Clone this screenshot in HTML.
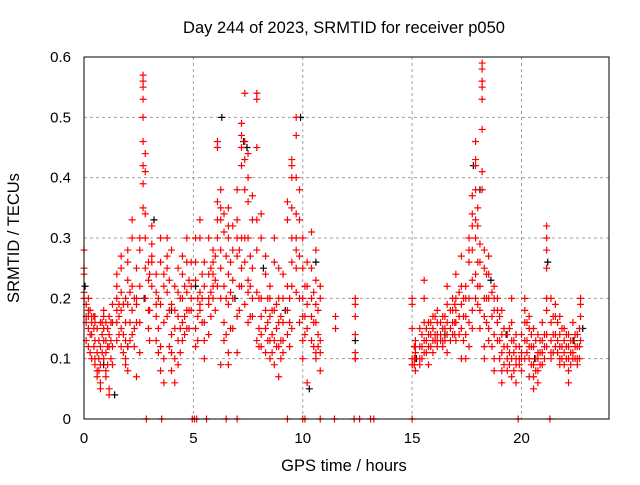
<!DOCTYPE html>
<html><head><meta charset="utf-8"><style>
body{margin:0;background:#fff}
svg text{font-family:"Liberation Sans",sans-serif;font-size:16.5px;fill:#000}
svg text.tick{font-size:15px}
</style></head><body>
<svg id="chart" width="640" height="480">
<text x="344" y="33" text-anchor="middle">Day 244 of 2023, SRMTID for receiver p050</text>
<text x="344" y="471" text-anchor="middle">GPS time / hours</text>
<text transform="translate(19,238) rotate(-90)" text-anchor="middle">SRMTID / TECUs</text>
<g id="grid"></g><g id="marks"></g>
<rect x="84" y="57" width="525" height="362" fill="none" stroke="#000" stroke-width="1"/>
</svg>
<script>
const xTicks=[0,5,10,15,20];
const yTicks=[0,0.1,0.2,0.3,0.4,0.5,0.6];
const yTickLabels=["0","0.1","0.2","0.3","0.4","0.5","0.6"];
const redTimes=[0,0.1,0.2,0.35,0.5,0.6,0.75,0.9,1.0,1.15,1.3,1.5,1.7,1.9,2.0,2.2,2.4,2.55,2.7,2.8,2.95,3.1,3.3,3.5,3.65,3.8,4.0,4.15,4.3,4.5,4.7,4.9,5.1,5.3,5.5,5.7,5.9,6.1,6.25,6.4,6.6,6.8,7.0,7.2,7.35,7.5,7.7,7.9,8.1,8.3,8.5,8.7,8.9,9.1,9.3,9.5,9.7,9.85,10.0,10.2,10.4,10.6,10.8,11.5,12.4,15.0,15.15,15.35,15.55,15.75,15.95,16.15,16.4,16.6,16.85,17.0,17.25,17.45,17.6,17.75,17.9,18.0,18.1,18.2,18.3,18.5,18.75,18.9,19.1,19.35,19.55,19.75,20.0,20.15,20.35,20.55,20.75,20.95,21.15,21.35,21.55,21.75,21.95,22.15,22.35,22.55,22.7];
const redValues=[[.24,.28,.25,.21,.2],[.17,.16,.19,.13],[.15,.17,.18,.12,.2],[.16,.14,.1,.17],[.13,.16,.09,.17,.1],[.08,.11,.15,.07],[.16,.12,.06,.05,.09],[.15,.17,.1,.13,.18],[.11,.13,.16,.07,.08],[.14,.17,.12,.05,.04],[.16,.19,.09,.12],[.2,.22,.18,.24,.16,.13],[.21,.18,.15,.12,.25,.27],[.2,.16,.1,.09,.13],[.28,.26,.23,.19,.12,.08],[.22,.18,.3,.33,.14],[.25,.2,.16,.07,.19],[.3,.28,.22,.16,.11],[.57,.56,.53,.55,.5,.46,.42,.39,.35],[.44,.41,.34,.3,.25,.2],[.26,.23,.18,.15],[.22,.27,.32,.29,.26],[.19,.24,.21,.17,.13],[.26,.3,.19,.12,.08],[.24,.22,.16,.1,.06],[.3,.27,.25,.21,.17],[.19,.14,.11,.08,.28],[.22,.18,.15,.1,.06],[.25,.21,.17,.13,.09],[.27,.24,.2,.16,.13],[.3,.26,.21,.18,.15],[.18,.22,.26,.2],[.26,.3,.23,.15,.12],[.33,.3,.21,.19,.18],[.22,.26,.16,.1,.13],[.3,.24,.2,.14,.19],[.28,.26,.24,.22,.2],[.46,.45,.36,.33,.3,.22],[.35,.38,.33,.28,.25,.2,.09],[.34,.31,.22,.16,.13],[.35,.32,.3,.24,.19,.11,.09],[.32,.28,.23,.2,.15],[.38,.33,.3,.27,.17,.11],[.47,.49,.45,.42,.3,.25,.22],[.54,.46,.43,.38,.3,.26,.19],[.44,.4,.36,.3,.23,.21,.16],[.37,.33,.25,.2,.17],[.54,.53,.45,.33,.28,.21,.13],[.34,.3,.2,.17,.14,.12],[.27,.24,.18,.15,.11],[.22,.2,.17,.13,.1],[.3,.26,.18,.13,.09],[.25,.2,.16,.12,.07],[.24,.2,.16,.13,.11],[.36,.33,.22,.18,.14],[.43,.42,.4,.35,.3,.26,.22,.15],[.5,.47,.4,.34,.3,.28,.25,.21],[.38,.33,.27,.2,.16],[.3,.25,.2,.17,.13,.1],[.26,.22,.19,.15,.06],[.31,.25,.2,.17,.13],[.28,.23,.19,.16,.11,.1],[.22,.2,.13,.11,.08],[.17,.15],[.2,.19,.17,.14,.11,.1,.1],[.2,.19,.15,.1,.09,.09],[.13,.11,.08,.1,.12],[.15,.12,.1,.09],[.23,.2,.16,.13,.11],[.16,.14,.12,.09],[.17,.15,.13,.11],[.18,.16,.14,.12,.13],[.17,.15,.13,.12],[.22,.19,.16,.14,.11],[.2,.18,.16,.14],[.24,.2,.18,.16,.13],[.27,.22,.19,.15,.1],[.22,.2,.17,.14,.1],[.3,.28,.26,.2,.16,.12],[.37,.34,.32,.28,.23,.18,.15],[.46,.43,.42,.38,.33,.3,.24,.2],[.35,.32,.26,.22,.19],[.29,.26,.22,.18,.15],[.59,.58,.56,.55,.53,.48,.41,.38],[.28,.25,.2,.17,.12,.1],[.27,.24,.2,.15,.13],[.2,.22,.18,.14,.1,.08],[.2,.18,.16,.13],[.18,.14,.11,.08,.06],[.14,.12,.1,.08],[.2,.16,.13,.1,.07],[.14,.12,.1,.09,.06],[.14,.11,.1,.08],[.2,.18,.16,.13,.1],[.17,.15,.12,.1,.07],[.15,.12,.09,.07,.05],[.14,.11,.1,.08,.06],[.16,.13,.11,.09],[.32,.3,.28,.25,.2,.18,.14,.12],[.2,.16,.13,.11,.1],[.19,.17,.14,.12],[.17,.14,.12,.1,.09],[.15,.13,.11,.09],[.14,.12,.1,.08,.06],[.16,.13,.11,.1],[.14,.12,.1,.09],[.2,.19,.17,.13]];
const extraTimes=[0.28,0.45,0.68,0.83,1.08,1.23,1.6,1.8,2.1,2.3,3.0,3.4,3.9,4.4,4.6,4.8,5.2,5.4,5.8,6.0,6.5,6.7,7.1,7.6,8.0,8.4,8.6,8.8,9.0,9.4,10.1,10.5,10.7,15.1,15.45,15.65,15.85,16.05,16.3,16.5,16.75,16.95,17.15,17.35,18.4,18.65,19.0,19.2,19.45,19.65,19.9,20.25,20.45,20.65,20.85,21.05,21.45,21.65,21.85,22.05,22.25,22.45,22.65];
const extraValues=[[.14,.18,.11],[.15,.12,.17],[.13,.1,.08],[.14,.11,.16],[.12,.15,.09],[.13,.1,.16],[.17,.14,.19],[.19,.14,.11],[.21,.16,.13],[.2,.15,.12],[.24,.18,.13],[.2,.15,.11],[.23,.18,.12],[.2,.15,.11],[.22,.17,.14],[.23,.18,.15],[.2,.17,.13],[.24,.2,.16],[.25,.21,.17],[.27,.23,.18],[.27,.2,.14],[.26,.21,.15],[.28,.22,.18],[.27,.22,.17],[.2,.15,.12],[.2,.16,.13],[.18,.14,.11],[.19,.15,.12],[.17,.13,.1],[.2,.16,.12],[.22,.17,.14],[.21,.16,.12],[.18,.14,.12],[.12,.1,.09],[.14,.12,.1],[.15,.13,.11],[.16,.14,.12],[.17,.14,.13],[.16,.14,.13],[.17,.15,.13],[.18,.15,.13],[.19,.16,.14],[.21,.17,.14],[.2,.17,.13],[.24,.2,.16],[.21,.17,.12],[.17,.13,.1],[.15,.12,.09],[.15,.11,.09],[.13,.11,.08],[.12,.1,.09],[.16,.13,.11],[.14,.12,.09],[.13,.1,.08],[.13,.11,.09],[.14,.12,.1],[.17,.14,.11],[.16,.13,.11],[.15,.12,.1],[.14,.12,.1],[.13,.11,.09],[.14,.12,.1],[.15,.12,.1]];
const zeroTimes=[2.85,3.55,4.95,5.05,5.15,5.6,6.5,7.0,9.3,10.0,10.1,10.8,11.45,12.35,12.6,13.1,13.25,15.0,19.85,21.3];
const blackTimes=[0.05,0.9,1.4,2.0,2.75,3.2,4.0,5.1,6.3,6.9,7.3,7.45,8.2,9.2,9.9,10.3,10.6,12.4,15.2,16.5,17.8,18.1,18.6,19.3,20.6,21.2,22.4,22.8];
const blackValues=[.22,.09,.04,.12,.2,.33,.18,.22,.5,.2,.46,.45,.25,.18,.5,.05,.26,.13,.1,.14,.42,.38,.23,.14,.1,.26,.13,.15];

const X=t=>84+t*21.875, Y=v=>419-v*603.3;
const NS="http://www.w3.org/2000/svg";
const grid=document.getElementById('grid'), marks=document.getElementById('marks');
function mk(tag,attrs,parent){const e=document.createElementNS(NS,tag);for(const k in attrs)e.setAttribute(k,attrs[k]);parent.appendChild(e);return e;}
xTicks.forEach(t=>{
  if(t>0){const l=mk('line',{x1:X(t),x2:X(t),y1:57,y2:419,stroke:'#a0a0a0','stroke-dasharray':'3,3'},grid);
  
  }
  const tx=mk('text',{x:X(t),y:443,'text-anchor':'middle','class':'tick'},grid);tx.textContent=t;
  
  
});
yTicks.forEach((v,i)=>{
  if(v>0&&v<0.6){const l=mk('line',{x1:84,x2:609,y1:Y(v),y2:Y(v),stroke:'#a0a0a0','stroke-dasharray':'3,3'},grid);
  
  }
  const tx=mk('text',{x:71,y:Y(v)+5,'text-anchor':'end','class':'tick'},grid);tx.textContent=yTickLabels[i];
  
  
});
function plus(t,v,c){
  const x=X(t),y=Y(v);
  return mk('path',{d:`M${x-3.5},${y}h7M${x},${y-3.5}v7`,stroke:c,'stroke-width':1.2,fill:'none'},marks);
}
blackTimes.forEach((t,i)=>{const p=plus(t,blackValues[i],'#000');
  
  });
redTimes.forEach((t,i)=>redValues[i].forEach(v=>{const p=plus(t,v,'#f00');
  
  }));
extraTimes.forEach((t,i)=>extraValues[i].forEach(v=>{const p=plus(t,v,'#f00');
  
  }));
zeroTimes.forEach(t=>{const p=plus(t,0,'#f00');
  
  });
</script>
</body></html>
